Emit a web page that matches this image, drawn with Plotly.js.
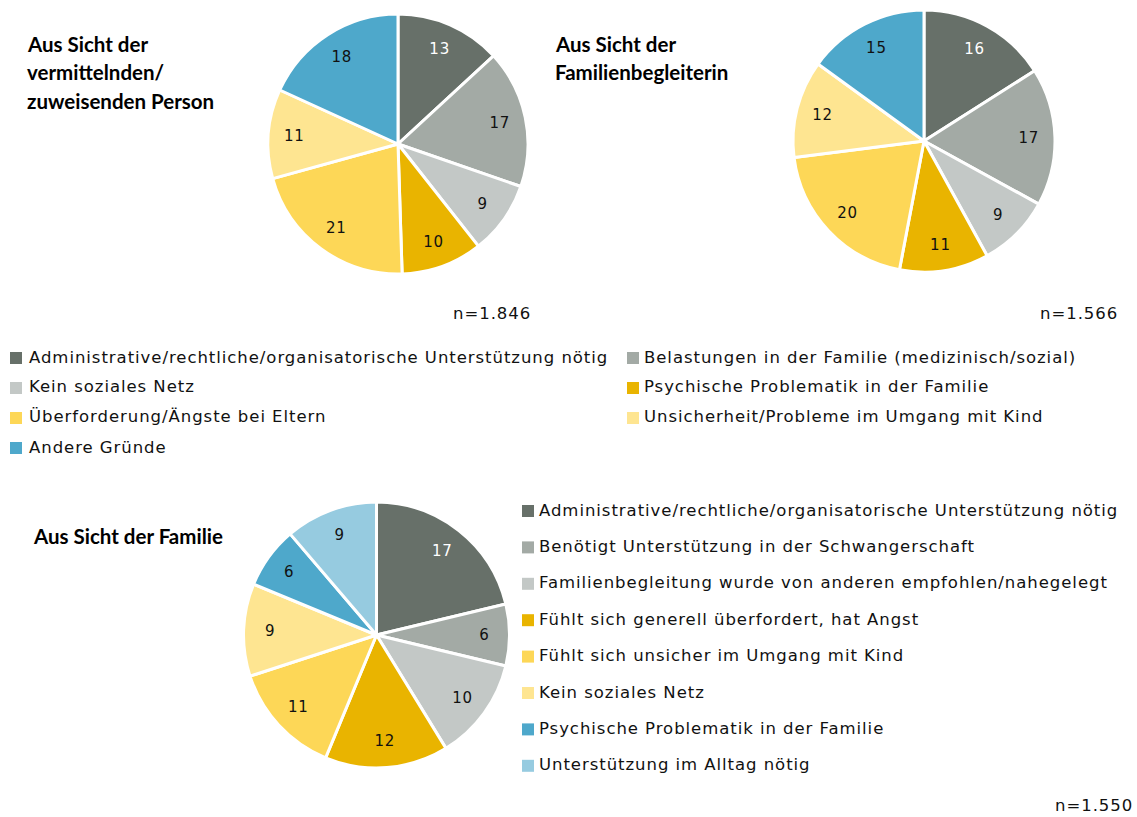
<!DOCTYPE html>
<html><head><meta charset="utf-8">
<script src="https://cdn.plot.ly/plotly-3.0.1.min.js"></script>
<style>body{margin:0;background:#fff}#chart{width:1137px;height:817px}</style>
</head><body><div id="chart"></div>
<script>
// ---- data ----
const labelsA = ["Administrative/rechtliche/organisatorische Unterstützung nötig","Belastungen in der Familie (medizinisch/sozial)","Kein soziales Netz","Psychische Problematik in der Familie","Überforderung/Ängste bei Eltern","Unsicherheit/Probleme im Umgang mit Kind","Andere Gründe"];
const valuesVermittelnd = [13,17,9,10,21,11,18];
const valuesBegleiterin = [16,17,9,11,20,12,15];
const labelsFamilie = ["Administrative/rechtliche/organisatorische Unterstützung nötig","Benötigt Unterstützung in der Schwangerschaft","Familienbegleitung wurde von anderen empfohlen/nahegelegt","Fühlt sich generell überfordert, hat Angst","Fühlt sich unsicher im Umgang mit Kind","Kein soziales Netz","Psychische Problematik in der Familie","Unterstützung im Alltag nötig"];
const valuesFamilie = [17,6,10,12,11,9,6,9];
const colorsA = ["#677069","#a3aaa5","#c3c8c6","#e9b400","#fdd757","#fee591","#4ea8cb"];
const colorsFamilie = ["#677069","#a3aaa5","#c3c8c6","#e9b400","#fdd757","#fee591","#4ea8cb","#96cbe0"];
const titleLines = [["Aus Sicht der","vermittelnden/","zuweisenden Person"],["Aus Sicht der","Familienbegleiterin"],["Aus Sicht der Familie"]];
const nLabels = ["n=1.846","n=1.566","n=1.550"];

// ---- layout helpers ----
const W = 1137, H = 817;
const px = x => x / W;
const py = y => 1 - y / H;
const textColors = n => Array.from({length:n}, (_, i) => i === 0 ? "#ffffff" : "#111111");
const spaced = (t, s) => '<span style="letter-spacing:' + s + 'px">' + t + '</span>';

function pieTraces(labels, values, colors, x0, x1, y0, y1) {
  const domain = {x: [px(x0), px(x1)], y: [py(y1), py(y0)]};
  const base = {
    type: "pie", labels: labels, values: values, sort: false, direction: "clockwise", rotation: 0,
    marker: {colors: colors, line: {color: "#ffffff", width: 3}},
    textinfo: "none", domain: domain, showlegend: false
  };
  // transparent ring on top only carries the value labels (placed in the outer band)
  const ring = {
    type: "pie", labels: labels, values: values, sort: false, direction: "clockwise", rotation: 0,
    hole: 0.6,
    marker: {colors: labels.map(() => "rgba(0,0,0,0)"), line: {width: 0}},
    texttemplate: values.map(v => spaced(v, 0.8)),
    textinfo: "value", textposition: "inside", insidetextorientation: "horizontal",
    textfont: {family: "DejaVu Sans", size: 15, color: textColors(values.length)},
    domain: domain, showlegend: false
  };
  return [base, ring];
}

const data = [
  ...pieTraces(labelsA, valuesVermittelnd, colorsA, 268, 528, 14, 274),
  ...pieTraces(labelsA, valuesBegleiterin, colorsA, 793, 1055, 10, 272),
  ...pieTraces(labelsFamilie, valuesFamilie, colorsFamilie, 243, 510, 502, 768)
];

const annotations = [];
const shapes = [];
const titleFont = {family: "Lato", size: 20.5, color: "#000"};
const titlePos = [[27, 44], [555, 44], [33, 536]];
titleLines.forEach((lines, t) => {
  lines.forEach((line, k) => {
    annotations.push({x: px(titlePos[t][0] - 2), y: py(titlePos[t][1] + k * 28.5), xref: "paper", yref: "paper", xanchor: "left", yanchor: "middle", align: "left", text: "<b>" + line + "</b>", showarrow: false, font: titleFont});
  });
});

const txtFont = {family: "DejaVu Sans", size: 16.5, color: "#111"};
[[533, 313], [1120, 313], [1135, 805]].forEach((p, i) => {
  annotations.push({x: px(p[0]), y: py(p[1]), xref: "paper", yref: "paper", xanchor: "right", yanchor: "middle", text: spaced(nLabels[i], 0.95), showarrow: false, font: txtFont});
});

function addLegendItem(label, color, sx, tx, cy) {
  shapes.push({type: "rect", xref: "paper", yref: "paper", x0: px(sx), x1: px(sx + 12), y0: py(cy + 7), y1: py(cy - 5), fillcolor: color, line: {width: 0}});
  annotations.push({x: px(tx - 3), y: py(cy), xref: "paper", yref: "paper", xanchor: "left", yanchor: "middle", text: spaced(label, 0.95), showarrow: false, font: txtFont});
}
// legend 1: two columns, row-wise
labelsA.forEach((lab, i) => {
  const col = i % 2, row = Math.floor(i / 2);
  addLegendItem(lab, colorsA[i], col === 0 ? 10 : 627, col === 0 ? 30 : 645, 357 + row * 30);
});
// legend 2: one column
labelsFamilie.forEach((lab, i) => {
  addLegendItem(lab, colorsFamilie[i], 522, 540, 510 + i * 36.4);
});

const layout = {
  width: W, height: H, margin: {l: 0, r: 0, t: 0, b: 0},
  paper_bgcolor: "#ffffff", plot_bgcolor: "#ffffff",
  showlegend: false, annotations: annotations, shapes: shapes
};
Plotly.newPlot("chart", data, layout, {displayModeBar: false, staticPlot: true});
</script></body></html>
